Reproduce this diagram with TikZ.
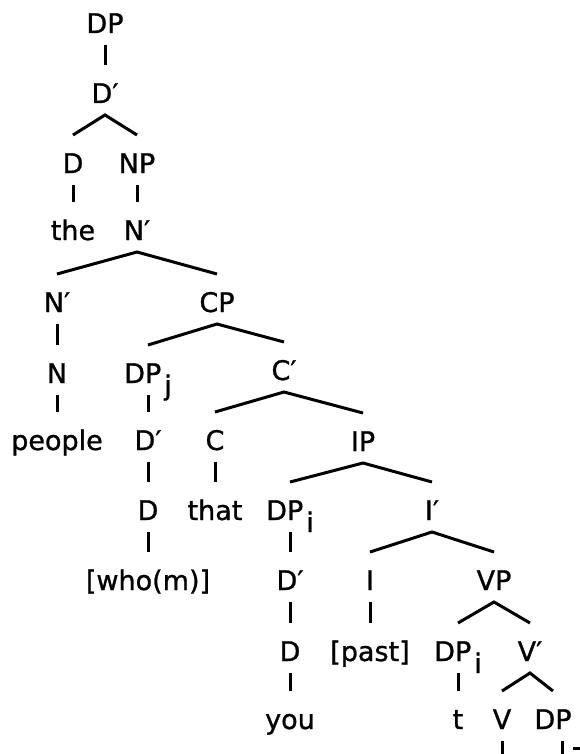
\documentclass[tikz,border=0pt]{standalone}
\usepackage{fontspec}
\setmainfont{DejaVu Sans}[UprightFeatures={FakeBold=1.0}]
\newcommand{\lsub}[1]{\kern3pt\raisebox{-12pt}{#1}}
\tikzset{
  lbl/.style={anchor=base, inner sep=0pt, outer sep=0pt, text height=38pt, text depth=12pt,
    font=\fontsize{27pt}{30pt}\selectfont},
  edge/.style={line width=3pt},
}
\begin{document}
\begin{tikzpicture}[x=1pt,y=-1pt]
\useasboundingbox[fill=white] (0,0) rectangle (580,754);
% nodes
\node[lbl] (dp)   at (105,33)  {DP};
\node[lbl] (d1)   at (105,103) {D′};
\node[lbl] (d2)   at (73,173)  {D};
\node[lbl] (np)   at (137,173) {NP};
\node[lbl] (the)  at (73,240)  {the};
\node[lbl] (n1)   at (137,240) {N′};
\node[lbl] (n2)   at (57,312)  {N′};
\node[lbl] (cp)   at (217,312) {CP};
\node[lbl] (n3)   at (57,383)  {N};
\node[lbl] (dpj)  at (148,383) {DP\lsub{j}};
\node[lbl] (c1)   at (284,380) {C′};
\node[lbl] (people) at (57,450) {people};
\node[lbl] (d3)   at (148,450) {D′};
\node[lbl] (c2)   at (215,450) {C};
\node[lbl] (ip)   at (363,451) {IP};
\node[lbl] (d4)   at (148,520) {D};
\node[lbl] (that) at (215,520) {that};
\node[lbl] (dpi)  at (290,520) {DP\lsub{i}};
\node[lbl] (i1)   at (432,520) {I′};
\node[lbl] (who)  at (148,590) {[who(m)]};
\node[lbl] (d5)   at (290,590) {D′};
\node[lbl] (i2)   at (370,590) {I};
\node[lbl] (vp)   at (494,590) {VP};
\node[lbl] (d6)   at (290,661) {D};
\node[lbl] (past) at (370,661) {[past]};
\node[lbl] (dpi2) at (458,661) {DP\lsub{i}};
\node[lbl] (v1)   at (530,661) {V′};
\node[lbl] (you)  at (290,729) {you};
\node[lbl] (t)    at (458,729) {t};
\node[lbl] (v2)   at (502,729) {V};
\node[lbl] (dpz)  at (553,729) {DP};
\coordinate (v2end) at (502,758);
\coordinate (dpzend) at (562,758);
\coordinate (dashL) at (573,748);
\coordinate (dashR) at (582,748);
% connectors
\draw[edge] (dp.south) -- (d1.north);
\draw[edge] (d2.north) -- (d1.south) -- (np.north);
\draw[edge] (d2.south) -- (the.north);
\draw[edge] (np.south) -- (n1.north);
\draw[edge] (n2.north) -- (n1.south) -- (cp.north);
\draw[edge] (n2.south) -- (n3.north);
\draw[edge] (n3.south) -- (people.north);
\draw[edge] (dpj.north) -- (cp.south) -- (c1.north);
\draw[edge] (dpj.south) -- (d3.north);
\draw[edge] (d3.south) -- (d4.north);
\draw[edge] (d4.south) -- (who.north);
\draw[edge] (c2.north) -- (c1.south) -- (ip.north);
\draw[edge] (c2.south) -- (that.north);
\draw[edge] (dpi.north) -- (ip.south) -- (i1.north);
\draw[edge] (dpi.south) -- (d5.north);
\draw[edge] (d5.south) -- (d6.north);
\draw[edge] (d6.south) -- (you.north);
\draw[edge] (i2.north) -- (i1.south) -- (vp.north);
\draw[edge] (i2.south) -- (past.north);
\draw[edge] (dpi2.north) -- (vp.south) -- (v1.north);
\draw[edge] (dpi2.south) -- (t.north);
\draw[edge] (v2.north) -- (v1.south) -- (dpz.north);
\draw[edge] (v2.south) -- (v2end);
\draw[edge] ([xshift=9pt]dpz.south) -- (dpzend);
\draw[edge] (dashL) -- (dashR);
\end{tikzpicture}
\end{document}
